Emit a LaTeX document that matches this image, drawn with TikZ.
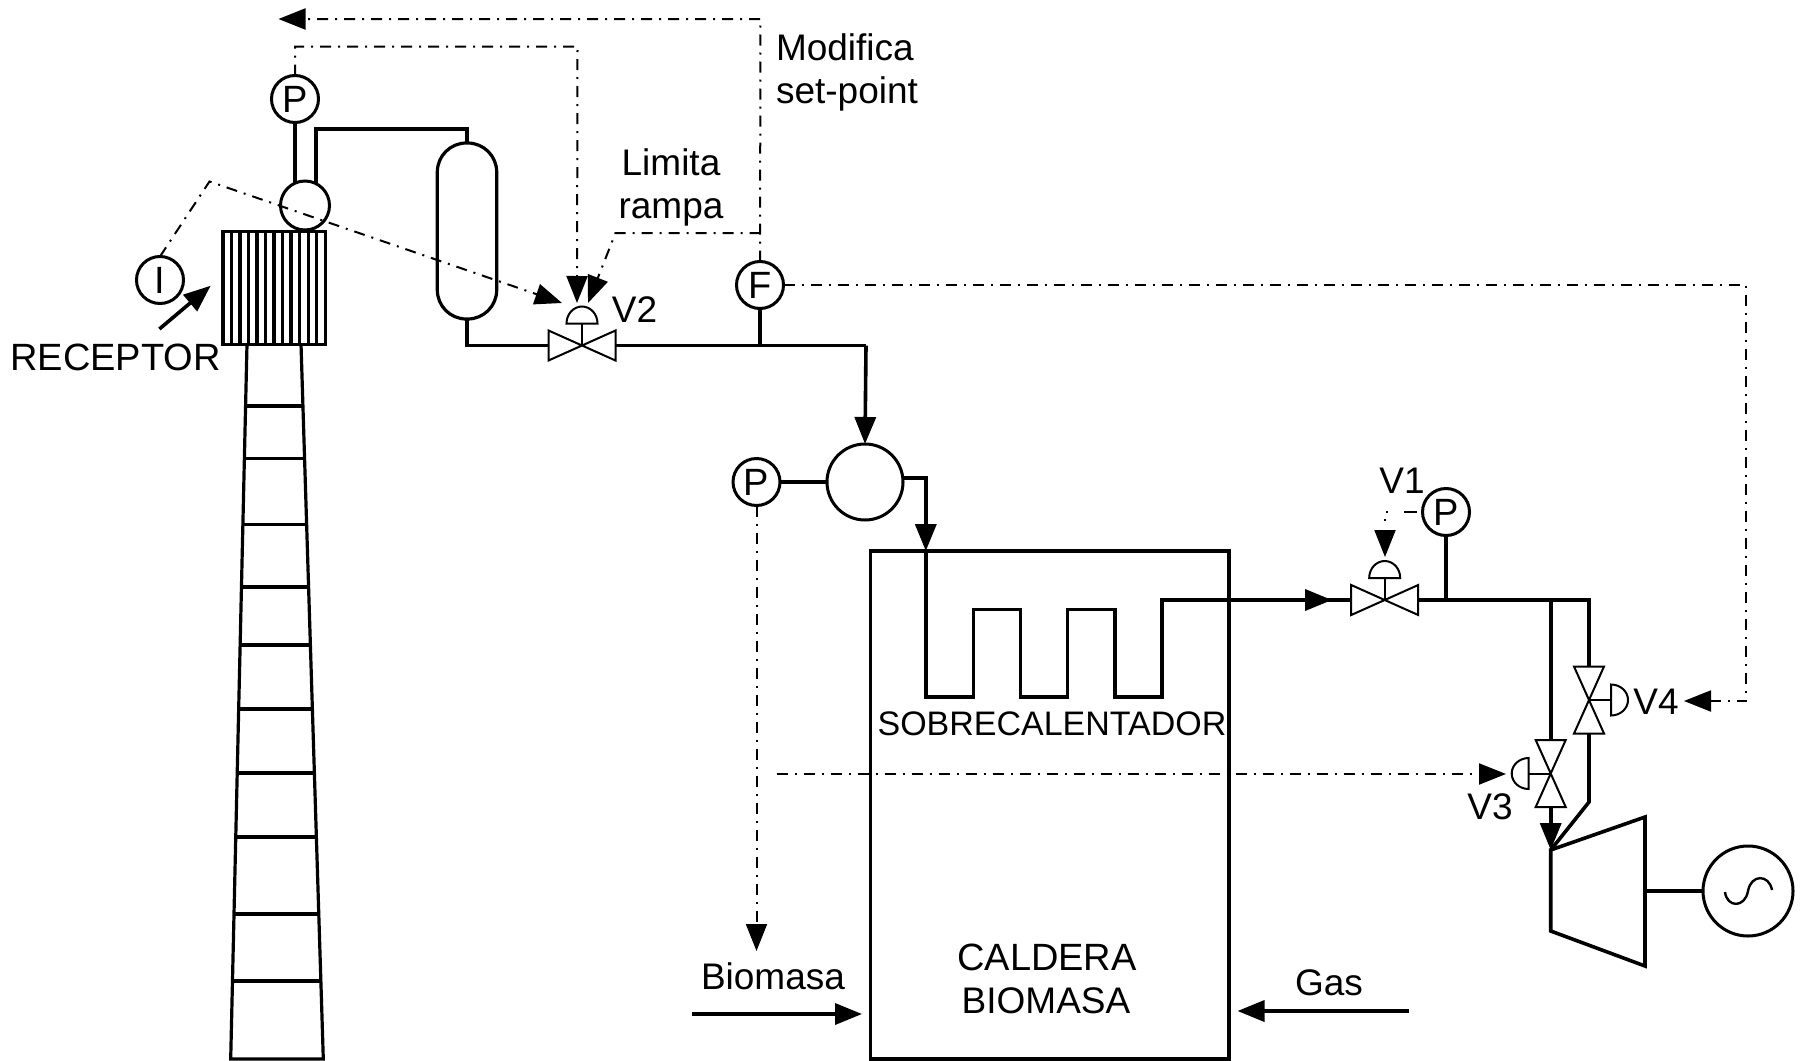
\documentclass[tikz,border=0pt]{standalone}
\usepackage{fontspec}
\setmainfont{Liberation Sans}
\usetikzlibrary{arrows.meta,calc}

\tikzset{
    pipe/.style={line width=3.6pt},
    wall/.style={line width=3.2pt},
    ctrl/.style={line width=2pt, dash pattern=on 11pt off 7pt on 2pt off 7pt},
    tip/.style={-{Triangle[length=27pt,width=21pt]}},
    lbl/.style={font=\fontsize{37}{43}\selectfont, inner sep=0pt, outer sep=0pt},
    inst/.style={circle, draw, line width=3pt, minimum size=47pt, inner sep=0pt, outer sep=0pt, font=\fontsize{38}{43}\selectfont},
    vessel/.style={circle, draw, line width=3pt, inner sep=0pt, outer sep=0pt},
    valve/.pic={
        \draw[line width=2pt] (-33.5,-15) -- (33.5,15) -- (33.5,-15) -- (-33.5,15) -- cycle;
        \draw[line width=2pt] (0,0) -- (0,-22);
        \draw[line width=2pt] (-15.5,-22) arc[start angle=180, end angle=0, x radius=15.5pt, y radius=17pt] -- cycle;
        \coordinate (-a) at (-33.5,0);
        \coordinate (-b) at (33.5,0);
    }
}

\begin{document}
\begin{tikzpicture}[x=1pt,y=-1pt]
        \useasboundingbox (0,0) rectangle (1811,1060);

        \node[inst] (ptorre) at (295,99) {P};
        \node[inst] (itorre) at (160,280) {I};
        \node[inst] (fvapor) at (760,285) {F};
        \node[inst] (pbomba) at (756.5,482) {P};
        \node[inst] (pturb) at (1446,512) {P};
        \node[vessel, minimum size=49pt] (drum) at (305,205.5) {};
        \node[vessel, minimum size=76pt] (bomba) at (865,482) {};
        \node[vessel, minimum size=90pt] (gen) at (1748,891) {};
        \node[draw, wall, rounded corners=29pt, minimum width=59.4pt, minimum height=176pt, inner sep=0pt, outer sep=0pt] (tanque) at (467,231) {};
        \node[draw, wall, minimum width=358.6pt, minimum height=508pt, inner sep=0pt, outer sep=0pt] (caldera) at (1049.6,805) {};
        \node[draw, wall, minimum width=102.2pt, minimum height=112.3pt, inner sep=0pt, outer sep=0pt] (receptor) at (274,288) {};

        \foreach \i in {1,...,11}
            \draw[wall] ({222.9+\i*8.52},231.7) -- ({222.9+\i*8.52},344);

        %torre
        \coordinate (tl) at (247,344);
        \coordinate (tr) at (301,344);
        \coordinate (bl) at (230.7,1059);
        \coordinate (br) at (323.3,1059);
        \draw[wall] (tl) -- (bl) -- (br) -- (tr);
        \foreach \ry in {406,458.5,524.6,587,645,709,773,837,914,981}
            \draw[wall] ({247-(\ry-344)*0.0228},\ry) -- ({301+(\ry-344)*0.0314},\ry);

        \pic (vdos) at (582,345.5) {valve};
        \pic (vuno) at (1384.7,600) {valve};
        \pic[rotate=-90] (vcuatro) at (1589,700) {valve};
        \pic[rotate=90] (vtres) at (1550.7,773.5) {valve};

        %tuberias
        \coordinate (codo) at (467,129);
        \coordinate (serp) at (925.8,551);
        \coordinate (rama) at (1550.7,600);
        \coordinate (ramb) at (1589,600);
        \coordinate (ramc) at (1589,802);
        \coordinate (vin) at (1332,600);
        \coordinate (tua) at (1550.7,850);
        \coordinate (tub) at (1645,817);
        \coordinate (tuc) at (1645,966);
        \coordinate (tud) at (1550.7,931);
        \coordinate (junta) at (866,345.5);
        \draw[pipe] (ptorre) -- (drum.114);
        \draw[pipe] (drum.64) |- (codo) -- (tanque.north);
        \draw[pipe] (tanque.south) |- (vdos-a);
        \draw[pipe] (vdos-b) -- (junta);
        \draw[pipe, tip] (junta) -- (bomba.north);
        \draw[pipe] (fvapor) -- (fvapor |- junta);
        \draw[pipe] (pbomba) -- (bomba);
        \draw[pipe, tip] (bomba.east |- 0,478) -| (serp);
        \draw[pipe] (serp) -- (925.8,696.7) -- (973.6,696.7) -- (973.6,609.3) -- (1020.3,609.3) -- (1020.3,696.7) -- (1067.4,696.7) -- (1067.4,609.3) -- (1115.2,609.3) -- (1115.2,696.7) -- (1162,696.7) -- (1162,600) -- (vuno-a);
        \draw[pipe, tip] (1162,600) -- (vin);
        \draw[pipe] (vuno-b) -- (ramb) -- (vcuatro-a);
        \draw[pipe] (pturb) -- (pturb |- vuno-b);
        \draw[pipe] (rama) -- (vtres-b);
        \draw[pipe, tip] (vtres-a) -- (tua);
        \draw[pipe] (vcuatro-b) -- (ramc) -- (tua);
        \draw[wall, line width=3.6pt] (tua) -- (tub) -- (tuc) -- (tud) -- cycle;
        \draw[wall] (1645,891) -- (gen);
        \draw[line width=2.4pt] (1725,892) .. controls (1727,908) and (1745,908) .. (1748,891) .. controls (1751,874) and (1769,874) .. (1772,890);

        %control
        \coordinate (sup) at (760.5,19);
        \coordinate (supfin) at (278.5,19);
        \coordinate (medio) at (760.5,233);
        \coordinate (rampa) at (615.5,233);
        \coordinate (dosa) at (577,303);
        \coordinate (dosb) at (588,303);
        \coordinate (dosc) at (562,303);
        \coordinate (codoi) at (209.5,181.5);
        \coordinate (pcodo) at (295,46.5);
        \coordinate (pbaja) at (577.5,46.5);
        \coordinate (cuafin) at (1684,701);
        \coordinate (cuacodo) at (1746,701);
        \coordinate (tresini) at (776.5,774);
        \coordinate (tresfin) at (1506,774);
        \coordinate (bajafin) at (756.5,951);
        \coordinate (unofin) at (1385,557);
        \draw[ctrl, tip] (fvapor.north) -- (sup) -- (supfin);
        \draw[ctrl, tip] (ptorre.north) -- (pcodo) -- (pbaja) -- (dosa);
        \draw[ctrl, tip] (medio) -- (rampa) -- (dosb);
        \draw[ctrl, tip] (itorre.north) -- (codoi) -- (dosc);
        \draw[ctrl, tip] (fvapor.east) -| (cuacodo) -- (cuafin);
        \draw[ctrl, tip] (tresini) -- (tresfin);
        \draw[ctrl, tip] (pbomba.south) -- (bajafin);
        \draw[ctrl, tip, dash pattern=on 0pt off 6pt on 13pt off 16pt on 2pt off 7pt on 2pt off 40pt] (pturb.west) -| (unofin);

        %flechas
        \coordinate (ra) at (159.4,329);
        \coordinate (rb) at (210.7,285.7);
        \coordinate (ba) at (692,1014);
        \coordinate (bb) at (862,1014);
        \coordinate (ga) at (1408.5,1011);
        \coordinate (gb) at (1237.5,1011);
        \draw[pipe, tip] (ra) -- (rb);
        \draw[pipe, tip] (ba) -- (bb);
        \draw[pipe, tip] (ga) -- (gb);

        \node[lbl, anchor=base, font=\fontsize{38}{43}\selectfont] (trec) at (115.5,370) {RECEPTOR};
        \node[lbl, anchor=base west] (tmod) at (776,60) {Modifica};
        \node[lbl, anchor=base west] (tset) at (776,103) {set-point};
        \node[lbl, anchor=base] (tlim) at (671,175) {Limita};
        \node[lbl, anchor=base] (tram) at (671,218) {rampa};
        \node[lbl, anchor=base] (tvdos) at (634.5,322) {V2};
        \node[lbl, anchor=base] (tvuno) at (1402,493.5) {V1};
        \node[lbl, anchor=base] (tvtres) at (1490,819) {V3};
        \node[lbl, anchor=base] (tvcuatro) at (1656,714) {V4};
        \node[lbl, anchor=base, font=\fontsize{34}{40}\selectfont] (tsob) at (1052,735) {SOBRECALENTADOR};
        \node[lbl, anchor=base, font=\fontsize{38}{43}\selectfont] (tcal) at (1047,970) {CALDERA};
        \node[lbl, anchor=base] (tbio) at (1046,1013) {BIOMASA};
        \node[lbl, anchor=base] (tbiom) at (773,989) {Biomasa};
        \node[lbl, anchor=base] (tgas) at (1329,995) {Gas};
    \end{tikzpicture}
\end{document}
